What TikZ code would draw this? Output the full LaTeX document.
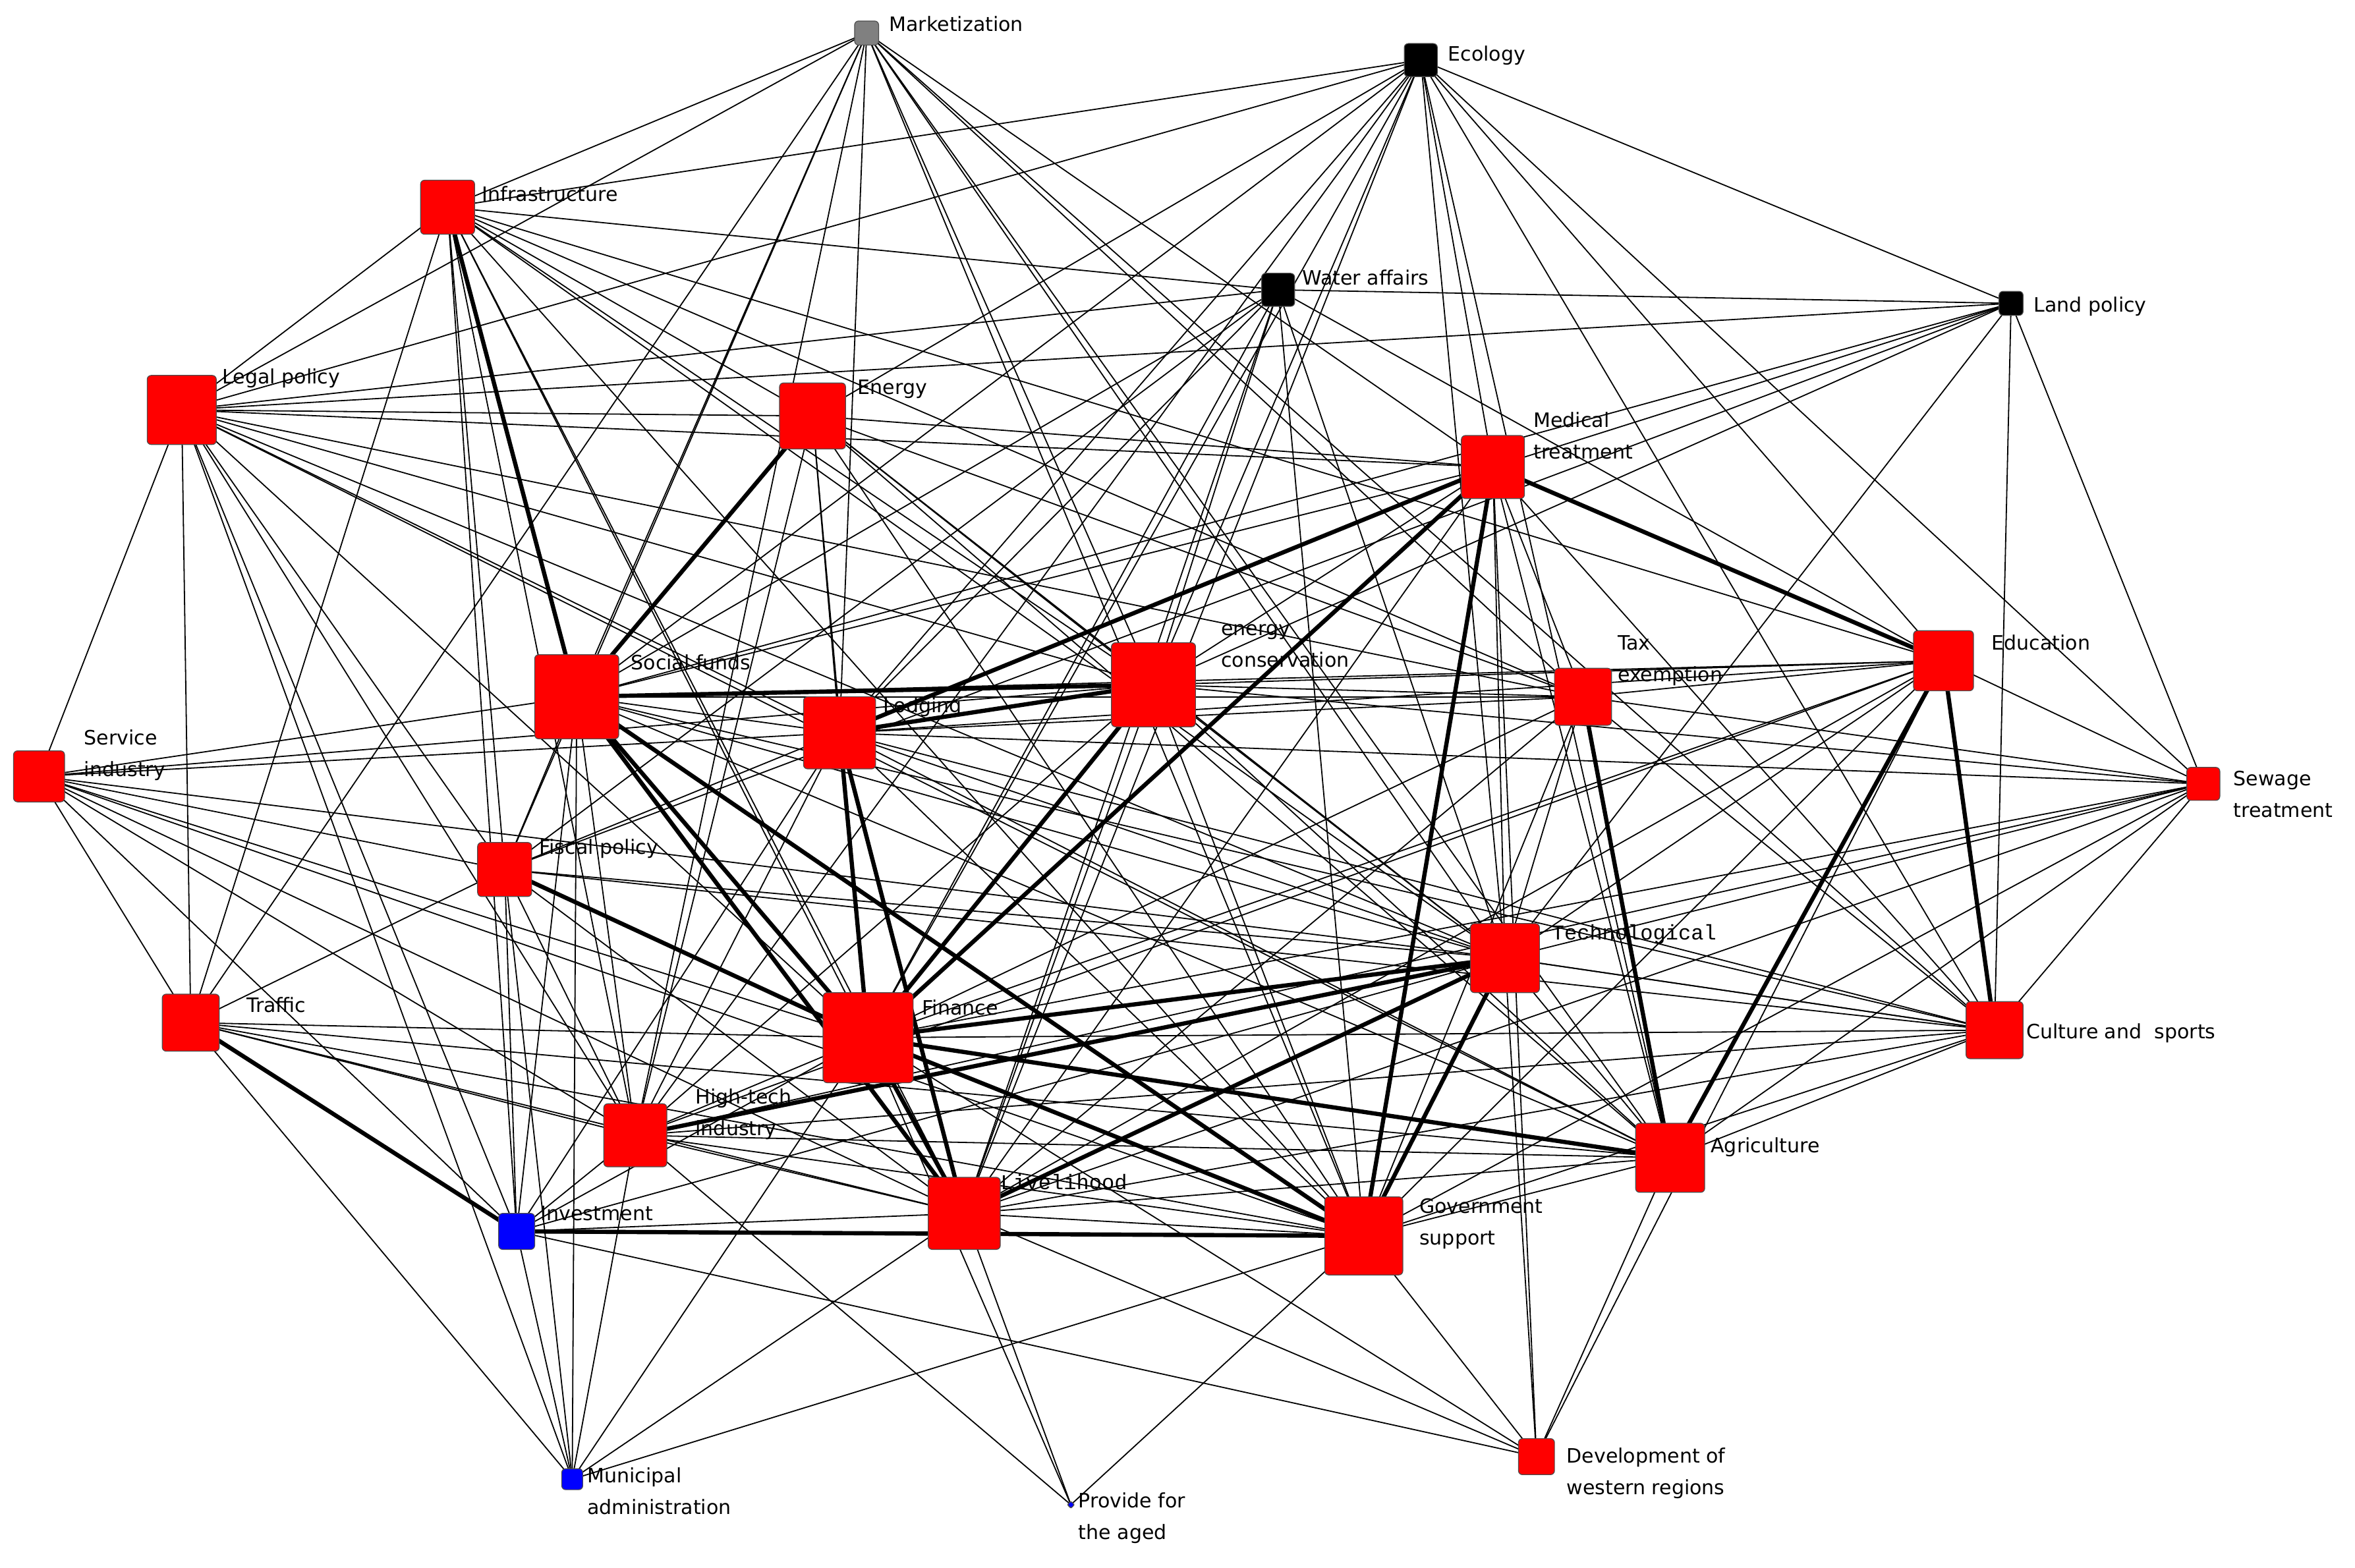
\documentclass[tikz,border=0pt]{standalone}
\usepackage{fontspec}
\setmainfont{DejaVu Sans}
\setmonofont{Liberation Mono}
\begin{document}
\begin{tikzpicture}[x=0.02cm,y=-0.02cm,
 nd/.style={draw=black!70,rounded corners=1.5pt,inner sep=0,line width=0.3pt},
 lb/.style={font=\fontsize{7.5}{9}\selectfont,anchor=west,align=left,inner sep=1pt},
 mono/.style={lb,font=\fontsize{8}{9}\selectfont\ttfamily},
 e/.style={line width=0.45pt},
 t/.style={line width=1.6pt}]
\useasboundingbox (0,0) rectangle (1568,1044);
% coordinates
\coordinate (mk) at (577,22);
\coordinate (ec) at (946,40);
\coordinate (in) at (298,138);
\coordinate (wa) at (851,193);
\coordinate (la) at (1339,202);
\coordinate (le) at (121,273);
\coordinate (en) at (541,277);
\coordinate (me) at (994,311);
\coordinate (so) at (384,464);
\coordinate (ecn) at (768,456);
\coordinate (lo) at (559,488);
\coordinate (ta) at (1054,464);
\coordinate (ed) at (1294,440);
\coordinate (se) at (26,517);
\coordinate (sw) at (1467,522);
\coordinate (fi) at (336,579);
\coordinate (te) at (1002,638);
\coordinate (tr) at (127,681);
\coordinate (fn) at (578,691);
\coordinate (cu) at (1328,686);
\coordinate (hi) at (423,756);
\coordinate (ag) at (1112,771);
\coordinate (iv) at (344,820);
\coordinate (li) at (642,808);
\coordinate (go) at (908,823);
\coordinate (de) at (1023,970);
\coordinate (mu) at (381,985);
\coordinate (pr) at (713,1002);
% thin edges
\foreach \a/\b in {mk/in,mk/le,mk/so,mk/lo,mk/fi,mk/tr,mk/ecn,mk/te,mk/ag,mk/me,mk/ta,mk/cu,mk/hi,mk/go,
 ec/in,ec/le,ec/en,ec/so,ec/lo,ec/fn,ec/te,ec/ag,ec/me,ec/cu,ec/la,ec/sw,ec/ecn,ec/li,ec/ed,ec/hi,
 in/wa,in/le,in/en,in/fi,in/tr,in/fn,in/hi,in/iv,in/ed,in/te,in/ta,in/go,in/ecn,in/li,
 wa/le,wa/so,wa/lo,wa/ecn,wa/fn,wa/li,wa/te,wa/fi,wa/la,wa/ed,wa/go,
 la/le,la/so,la/ecn,la/te,la/fi,la/sw,la/me,la/cu,
 le/en,le/se,le/tr,le/fi,le/fn,le/hi,le/iv,le/me,le/ecn,le/lo,le/ta,le/te,le/ag,le/mu,
 en/so,en/lo,en/ecn,en/fn,en/hi,en/te,en/ta,en/ag,en/go,en/me,
 me/so,me/ecn,me/lo,me/ta,me/te,me/ag,me/de,me/fn,me/cu,me/li,
 so/lo,so/ecn,so/ta,so/se,so/fi,so/fn,so/hi,so/iv,so/ed,so/te,so/mu,so/li,so/ag,so/cu,
 ecn/lo,ecn/ta,ecn/te,ecn/fn,ecn/hi,ecn/ag,ecn/li,ecn/ed,ecn/go,ecn/sw,ecn/se,
 lo/ta,lo/se,lo/fi,lo/te,lo/ag,lo/go,lo/hi,lo/iv,lo/cu,lo/ed,lo/sw,
 ta/ed,ta/te,ta/fn,ta/ag,ta/go,ta/cu,ta/sw,ta/li,
 ed/te,ed/go,ed/sw,ed/fn,ed/hi,ed/li,ed/de,
 se/fi,se/tr,se/fn,se/hi,se/iv,se/te,se/li,se/go,
 sw/te,sw/fn,sw/ag,sw/go,sw/cu,sw/li,sw/hi,
 fi/tr,fi/fn,fi/hi,fi/iv,fi/mu,fi/li,fi/te,fi/cu,
 te/fn,te/li,te/ag,te/cu,te/de,te/hi,te/iv,
 tr/fn,tr/hi,tr/mu,tr/li,tr/go,tr/ag,
 fn/hi,fn/iv,fn/cu,fn/ag,fn/de,fn/pr,fn/mu,
 cu/ag,cu/go,cu/li,cu/hi,cu/te,
 hi/iv,hi/li,hi/go,hi/ag,hi/mu,hi/pr,
 ag/li,ag/go,ag/de,
 iv/mu,iv/de,iv/li,
 li/go,li/pr,li/de,li/mu,
 go/de,go/mu,go/pr}
 \draw[e] (\a) -- (\b);
% thick edges
\foreach \a/\b in {in/so,so/go,so/fn,so/li,lo/li,lo/fn,fn/li,fn/go,fn/te,me/ed,me/go,me/fn,ed/ag,ed/cu,tr/iv,iv/go,te/li,te/go,fi/fn,en/so,me/lo,ecn/fn,ta/ag,ag/fn,hi/te,lo/ecn,so/ecn}
 \draw[t] (\a) -- (\b);
% nodes
\foreach \c/\s/\col in {mk/16/gray,ec/22/black,wa/22/black,la/16/black,in/36/red,le/46/red,en/44/red,me/42/red,
 so/56/red,ecn/56/red,lo/48/red,ta/38/red,ed/40/red,se/34/red,sw/22/red,fi/36/red,te/46/red,tr/38/red,
 fn/60/red,cu/38/red,hi/42/red,ag/46/red,iv/24/blue,li/48/red,go/52/red,de/24/red,mu/14/blue,pr/4/blue}
 \node[nd,fill=\col,minimum size=\s*0.02cm] (n\c) at (\c) {};
% labels
\node[lb] at (590,16) {Marketization};
\node[lb] at (962,37) {Ecology};
\node[lb] at (319,129) {Infrastructure};
\node[lb] at (865,185) {Water affairs};
\node[lb] at (1352,204) {Land policy};
\node[lb] at (146,252) {Legal policy};
\node[lb] at (569,259) {Energy};
\node[lb] at (1019,290) {Medical\\[3pt]treatment};
\node[lb] at (418,441) {Social funds};
\node[lb] at (811,430) {energy\\[3pt]conservation};
\node[lb] at (586,471) {Lodging};
\node[lb] at (1075,440) {Tax\\[3pt]exemption};
\node[lb] at (1324,428) {Education};
\node[lb] at (54,503) {Service\\[3pt]industry};
\node[lb] at (1485,529) {Sewage\\[3pt]treatment};
\node[lb] at (357,565) {Fiscal policy};
\node[mono] at (1031,622) {Technological};
\node[lb] at (162,669) {Traffic};
\node[lb] at (612,671) {Finance};
\node[lb] at (1347,688) {Culture and\ \ sports};
\node[lb] at (461,742) {High-tech\\[3pt]industry};
\node[lb] at (1137,764) {Agriculture};
\node[lb] at (358,808) {Investment};
\node[mono] at (664,787) {Livelihood};
\node[lb] at (943,815) {Government\\[3pt]support};
\node[lb] at (1041,981) {Development of\\[3pt]western regions};
\node[lb] at (389,993) {Municipal\\[3pt]administration};
\node[lb] at (716,1011) {Provide for\\[3pt]the aged};
\end{tikzpicture}
\end{document}
